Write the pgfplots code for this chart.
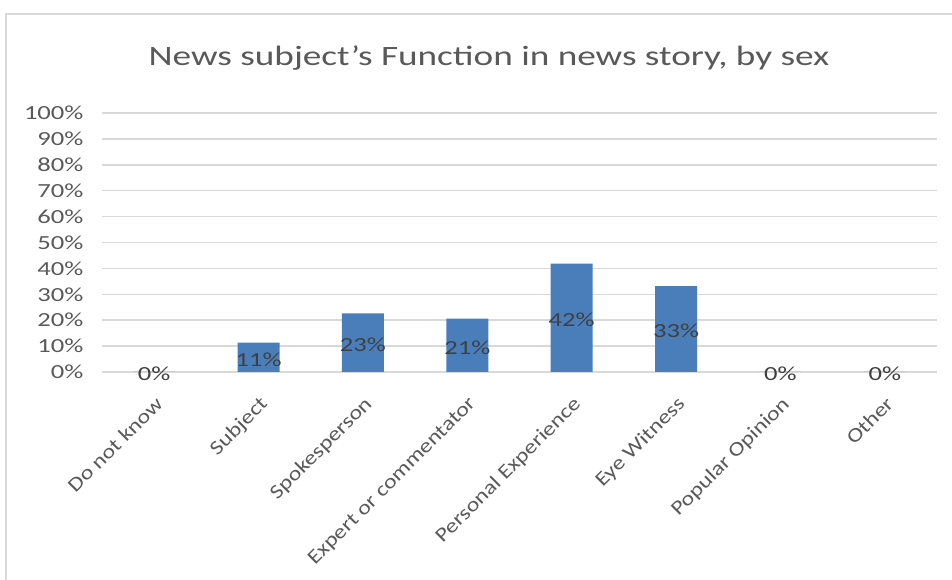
\documentclass[border=0pt]{standalone}
\usepackage{pgfplots}
\usepackage{pgfplotstable}
\pgfplotsset{compat=1.18}
\usepackage{fontspec}
\setmainfont{Carlito}[FakeStretch=1.33]
\newfontfamily\lblf{Carlito}[FakeStretch=1.2]
\definecolor{barc}{RGB}{74,126,187}
\definecolor{txt}{RGB}{89,89,89}
\definecolor{lbl}{RGB}{64,64,64}
\definecolor{grd}{RGB}{217,217,217}
\pgfplotstableread{
x y
0 0
1 11.3
2 22.6
3 20.6
4 41.8
5 33.2
6 0
7 0
}\data
\begin{document}
\begin{tikzpicture}[x=1pt,y=1pt]
\useasboundingbox (0,0) rectangle (952,580);
\draw[grd, line width=1.5pt] (6,0) -- (6,566) -- (952,566);
\node[txt, font=\fontsize{28}{32}\selectfont] at (489,522) {News subject’s Function in news story, by sex};
\begin{axis}[
  at={(102pt,208pt)}, anchor=south west,
  scale only axis, width=835pt, height=259pt,
  xmin=-0.5, xmax=7.5, ymin=0, ymax=100,
  xtick={0,...,7},
  xticklabels={Do not know, Subject, Spokesperson, Expert or commentator, Personal Experience, Eye Witness, Popular Opinion, Other},
  ytick={0,10,...,100},
  yticklabel={\pgfmathprintnumber[assume math mode=true]{\tick}\%},
  ymajorgrids, major grid style={grd, line width=1.5pt},
  axis line style={draw=none},
  major tick length=0pt,
  yticklabel style={font=\fontsize{20}{24}\selectfont, text=txt, anchor=east, xshift=-15pt},
  xticklabel style={xshift=0pt, yshift=-23pt, font=\lblf\fontsize{20}{24}\selectfont, text=txt, rotate=45, anchor=north east, inner sep=0pt},
  clip=false,
]
\addplot[ybar, bar width=42pt, fill=barc, draw=none] table[x=x, y=y] {\data};
\addplot[draw=none, mark=none,
  nodes near coords={\pgfmathprintnumber[fixed, precision=0, assume math mode=true]{\pgfplotspointmeta}\%},
  nodes near coords align={center},
  every node near coord/.append style={font=\fontsize{20}{24}\selectfont, text=lbl, yshift=-2pt},
  point meta=explicit]
  table[x=x, y expr=\thisrow{y}/2, meta=y] {\data};
\end{axis}
\end{tikzpicture}
\end{document}
